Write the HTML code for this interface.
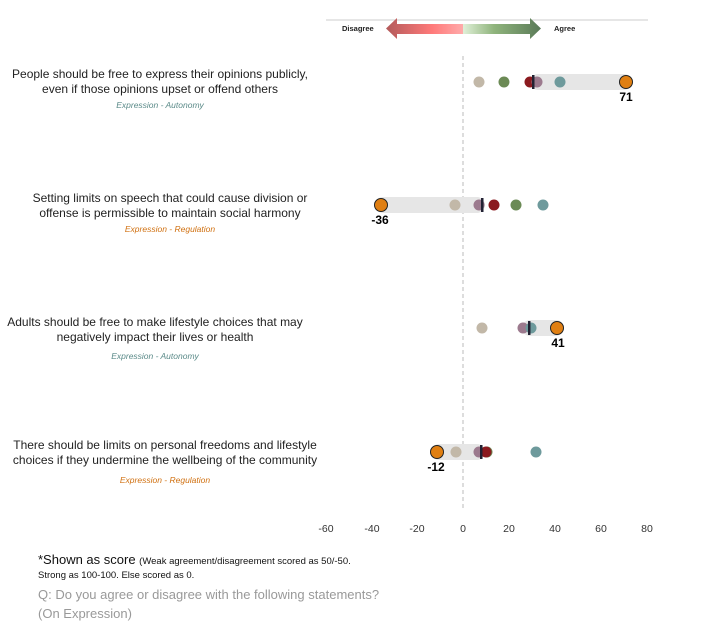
<!DOCTYPE html>
<html><head><style>
body{margin:0;background:#fff;width:720px;height:634px;overflow:hidden;font-family:"Liberation Sans",sans-serif;}
.q{position:absolute;text-align:center;color:#222;font-size:12px;line-height:15px;}
.tag{position:absolute;text-align:center;font-size:8.5px;font-style:italic;}
</style></head><body>
<svg width="720" height="634" style="position:absolute;left:0;top:0">
<defs>
<linearGradient id="gl" x1="0" x2="1"><stop offset="0" stop-color="#b35a5a"/><stop offset="0.6" stop-color="#ff7a7a"/><stop offset="1" stop-color="#ffaaaa"/></linearGradient>
<linearGradient id="gr" x1="0" x2="1"><stop offset="0" stop-color="#e0f0d8"/><stop offset="0.4" stop-color="#8fb47c"/><stop offset="1" stop-color="#5a7a58"/></linearGradient>
</defs>
<line x1="326" y1="20" x2="648" y2="20" stroke="#ccc" stroke-width="1"/>
<polygon points="386,28.5 397,18 397,24 463,24 463,34 397,34 397,39" fill="url(#gl)"/>
<polygon points="463,24 530,24 530,18 541,28.5 530,39 530,34 463,34" fill="url(#gr)"/>
<text x="342" y="31" font-size="7.5" font-weight="bold" fill="#222">Disagree</text>
<text x="554" y="31" font-size="7.5" font-weight="bold" fill="#222">Agree</text>
<line x1="463" y1="56" x2="463" y2="510" stroke="#bbb" stroke-dasharray="4,3"/>
<g font-size="10.5" fill="#333" text-anchor="middle">
<text x="326" y="532">-60</text><text x="372" y="532">-40</text><text x="417" y="532">-20</text><text x="463" y="532">0</text><text x="509" y="532">20</text><text x="555" y="532">40</text><text x="601" y="532">60</text><text x="647" y="532">80</text>
</g>
<!-- row1 -->
<rect x="530" y="74" width="102" height="16" rx="8" fill="#e6e6e6"/>
<circle cx="479" cy="82" r="5.5" fill="#c2b8a8"/><circle cx="504" cy="82" r="5.5" fill="#6b8a55"/>
<circle cx="530" cy="82" r="5.5" fill="#8b1a1f"/><circle cx="537" cy="82" r="5.5" fill="#9c7a8e"/>
<circle cx="560" cy="82" r="5.5" fill="#6e9a9c"/>
<rect x="532" y="75" width="2.5" height="14" fill="#223"/>
<circle cx="626" cy="82" r="6.5" fill="#e07f12" stroke="#222" stroke-width="1"/>
<text x="626" y="101" font-size="12" font-weight="bold" text-anchor="middle">71</text>
<!-- row2 -->
<rect x="375" y="197" width="110" height="16" rx="8" fill="#e6e6e6"/>
<circle cx="455" cy="205" r="5.5" fill="#c2b8a8"/><circle cx="479" cy="205" r="5.5" fill="#9c7a8e"/>
<circle cx="494" cy="205" r="5.5" fill="#8b1a1f"/><circle cx="516" cy="205" r="5.5" fill="#6b8a55"/>
<circle cx="543" cy="205" r="5.5" fill="#6e9a9c"/>
<rect x="481" y="198" width="2.5" height="14" fill="#223"/>
<circle cx="381" cy="205" r="6.5" fill="#e07f12" stroke="#222" stroke-width="1"/>
<text x="380" y="224" font-size="12" font-weight="bold" text-anchor="middle">-36</text>
<!-- row3 -->
<rect x="522" y="320" width="42" height="16" rx="8" fill="#e6e6e6"/>
<circle cx="482" cy="328" r="5.5" fill="#c2b8a8"/><circle cx="523" cy="328" r="5.5" fill="#9c7a8e"/>
<circle cx="531" cy="328" r="5.5" fill="#6e9a9c"/>
<rect x="528" y="321" width="2.5" height="14" fill="#223"/>
<circle cx="557" cy="328" r="6.5" fill="#e07f12" stroke="#222" stroke-width="1"/>
<text x="558" y="347" font-size="12" font-weight="bold" text-anchor="middle">41</text>
<!-- row4 -->
<rect x="431" y="444" width="54" height="16" rx="8" fill="#e6e6e6"/>
<circle cx="456" cy="452" r="5.5" fill="#c2b8a8"/><circle cx="479" cy="452" r="5.5" fill="#9c7a8e"/>
<circle cx="487" cy="452" r="5.5" fill="#6b8a55"/><circle cx="486" cy="452" r="5.5" fill="#8b1a1f"/>
<circle cx="536" cy="452" r="5.5" fill="#6e9a9c"/>
<rect x="480" y="445" width="2.5" height="14" fill="#223"/>
<circle cx="437" cy="452" r="6.5" fill="#e07f12" stroke="#222" stroke-width="1"/>
<text x="436" y="471" font-size="12" font-weight="bold" text-anchor="middle">-12</text>
</svg>
<div class="q" style="left:10px;width:300px;top:67px">People should be free to express their opinions publicly,<br>even if those opinions upset or offend others</div>
<div class="tag" style="left:10px;width:300px;top:100px;color:#5a8a88">Expression - Autonomy</div>
<div class="q" style="left:20px;width:300px;top:191px">Setting limits on speech that could cause division or<br>offense is permissible to maintain social harmony</div>
<div class="tag" style="left:20px;width:300px;top:224px;color:#d07010">Expression - Regulation</div>
<div class="q" style="left:0px;width:310px;top:315px">Adults should be free to make lifestyle choices that may<br>negatively impact their lives or health</div>
<div class="tag" style="left:0px;width:310px;top:351px;color:#5a8a88">Expression - Autonomy</div>
<div class="q" style="left:5px;width:320px;top:438px">There should be limits on personal freedoms and lifestyle<br>choices if they undermine the wellbeing of the community</div>
<div class="tag" style="left:5px;width:320px;top:475px;color:#d07010">Expression - Regulation</div>
<div style="position:absolute;left:38px;top:552px;font-size:13px;color:#111">*Shown as score <span style="font-size:9.5px">(Weak agreement/disagreement scored as 50/-50.</span></div>
<div style="position:absolute;left:38px;top:570px;font-size:9.5px;color:#111">Strong as 100-100. Else scored as 0.</div>
<div style="position:absolute;left:38px;top:585px;font-size:13px;color:#999;line-height:19px">Q: Do you agree or disagree with the following statements?<br>(On Expression)</div>
</body></html>
